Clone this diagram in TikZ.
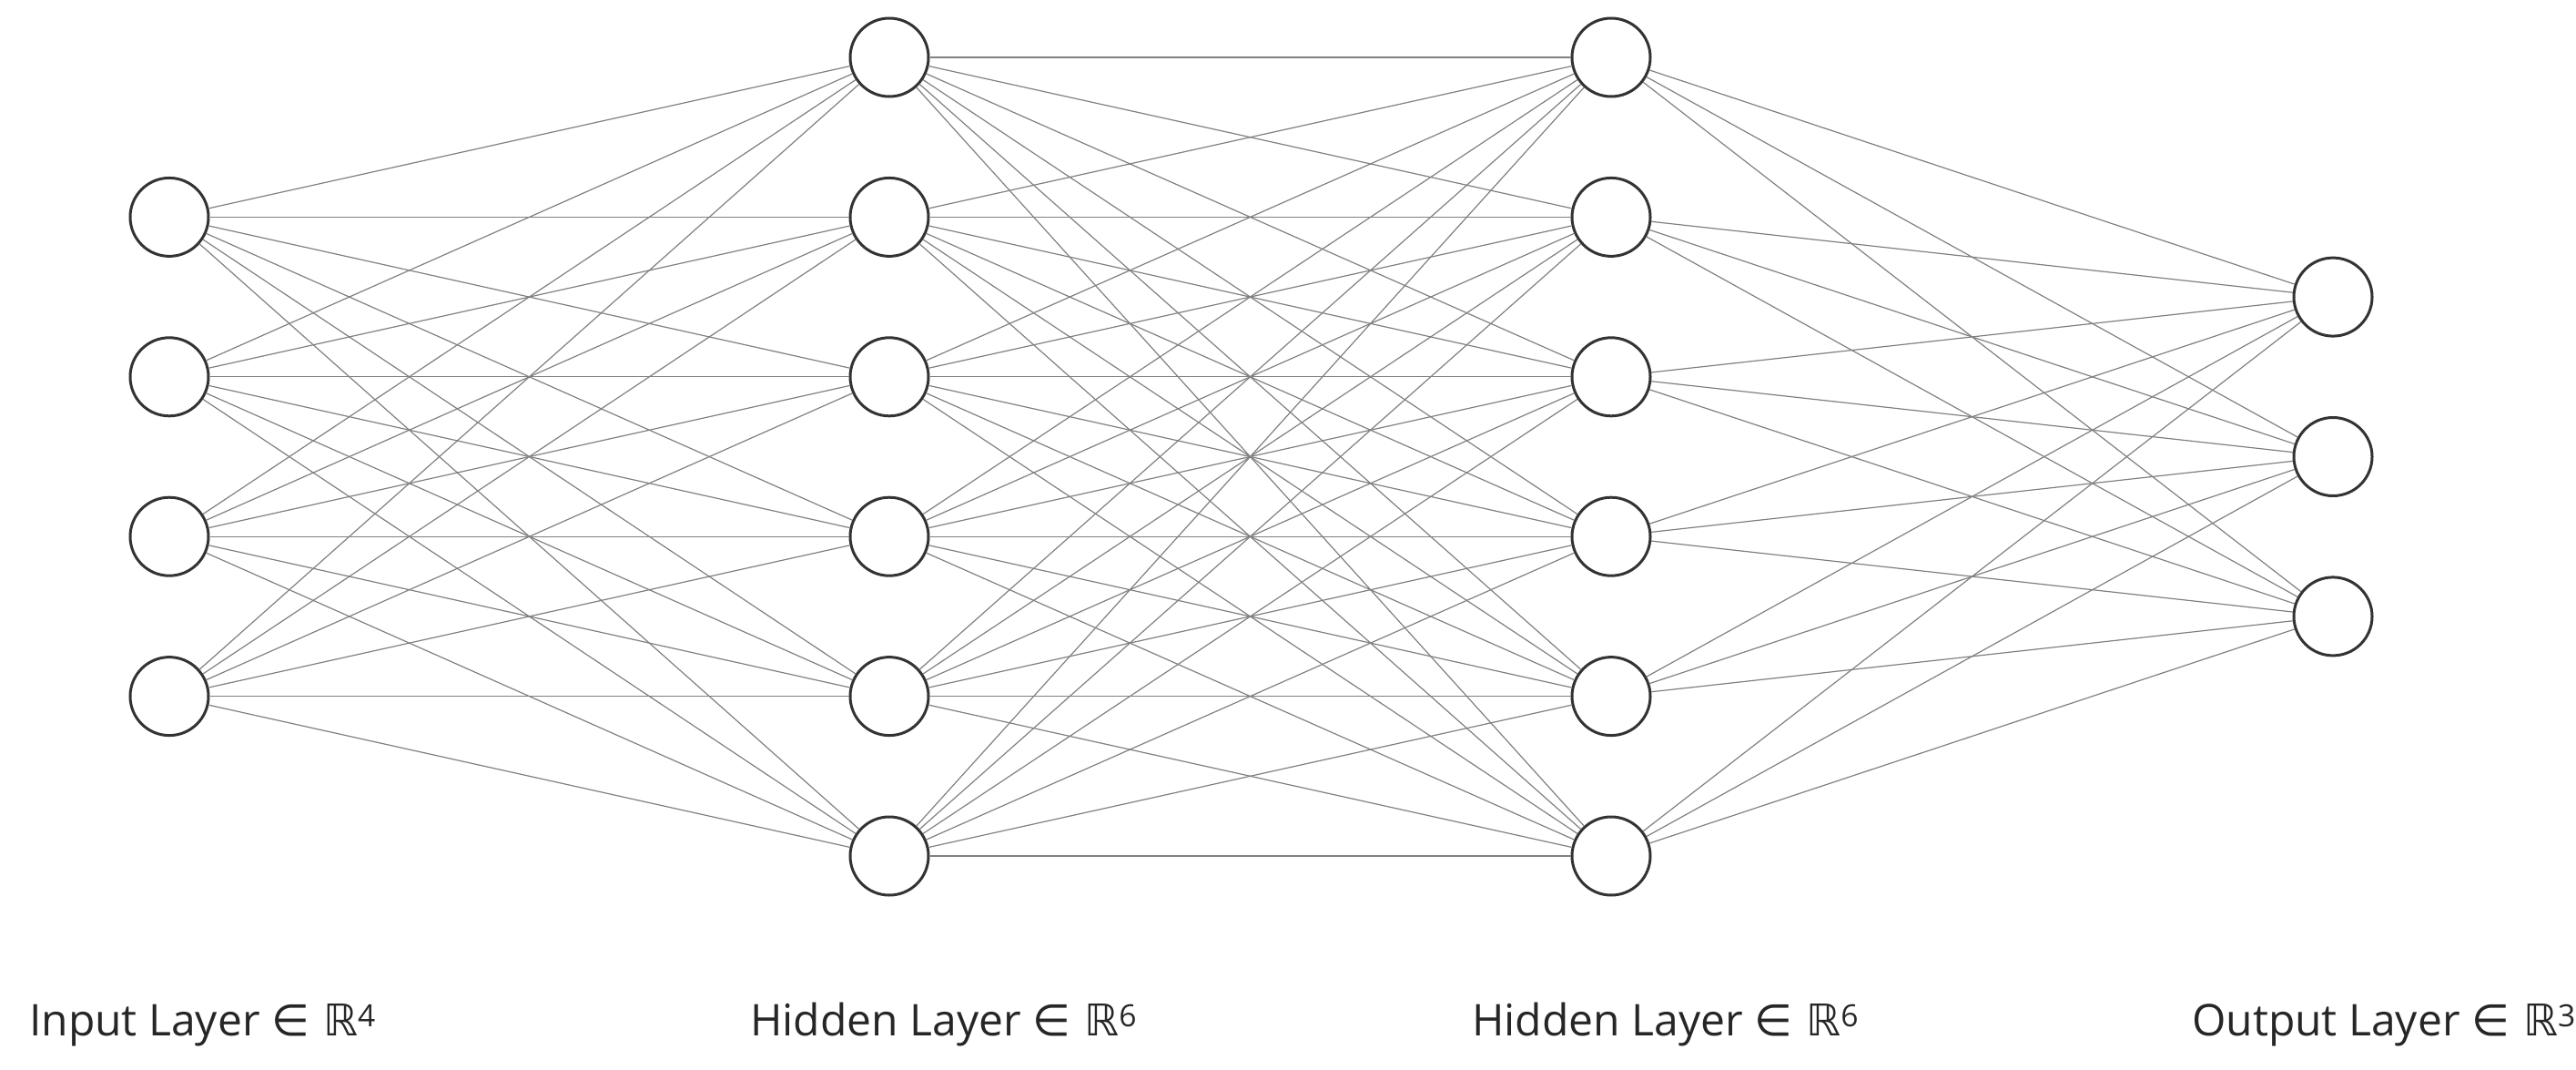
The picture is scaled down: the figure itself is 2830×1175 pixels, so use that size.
\documentclass[tikz,border=0pt]{standalone}
\usepackage{fontspec}
\setmainfont{Open Sans}
\newfontfamily\symf{DejaVu Sans}
\begin{document}
\begin{tikzpicture}[x=1pt,y=-1pt,
  neuron/.style={circle,draw=black!80,line width=3pt,fill=white,minimum size=86pt,inner sep=0pt},
  conn/.style={draw=black!50,line width=1.2pt},
  lbl/.style={anchor=base west,font=\fontsize{48}{58}\selectfont,text=black!85,inner sep=0pt}]
\useasboundingbox (0,0) rectangle (2830,1175);
\foreach \i in {1,...,4} \node[neuron] (I\i) at (186,{63+\i*175.4}) {};
\foreach \i in {1,...,6} {
  \node[neuron] (A\i) at (977,{63+(\i-1)*175.4}) {};
  \node[neuron] (B\i) at (1770,{63+(\i-1)*175.4}) {};}
\foreach \i in {1,...,3} \node[neuron] (O\i) at (2563,{326.1+(\i-1)*175.4}) {};
\foreach \i in {1,...,4} \foreach \j in {1,...,6} \path[conn] (I\i) -- (A\j);
\foreach \i in {1,...,6} \foreach \j in {1,...,6} \path[conn] (A\i) -- (B\j);
\foreach \i in {1,...,6} \foreach \j in {1,...,3} \path[conn] (B\i) -- (O\j);
\node[lbl] (L1) at (32,1137) {Input Layer {\symf ∈ ℝ}\textsuperscript{4}};
\node[lbl] (L2) at (824,1137) {Hidden Layer {\symf ∈ ℝ}\textsuperscript{6}};
\node[lbl] (L3) at (1617,1137) {Hidden Layer {\symf ∈ ℝ}\textsuperscript{6}};
\node[lbl] (L4) at (2408,1137) {Output Layer {\symf ∈ ℝ}\textsuperscript{3}};
\end{tikzpicture}
\end{document}
